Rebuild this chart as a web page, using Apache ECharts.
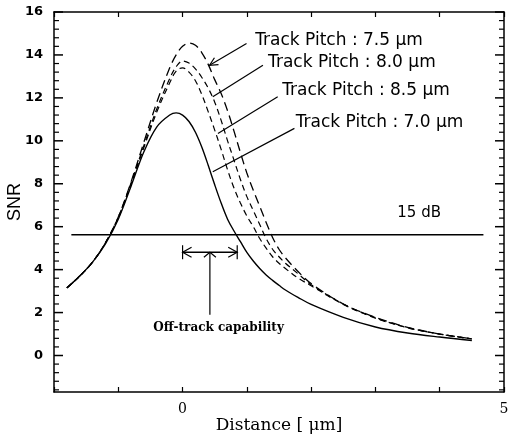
<!DOCTYPE html>
<html>
<head>
<meta charset="utf-8">
<script src="https://cdn.jsdelivr.net/npm/echarts@6.0.0/dist/echarts.min.js"></script>
<style>
  html, body { margin: 0; padding: 0; background: #fff; }
  #chart { width: 508px; height: 436px; }
</style>
</head>
<body>
<div id="chart"></div>
<script>
// Off-track distance (µm) at which SNR was evaluated
const distance = [-1.8, -1.6, -1.4, -1.2, -1.0, -0.8, -0.6, -0.4, -0.2, -0.1, 0.0, 0.1, 0.2, 0.3, 0.4, 0.5,
  0.6, 0.7, 0.8, 0.9, 1.0, 1.1, 1.2, 1.3, 1.4, 1.5, 1.6, 1.8, 2.0, 2.5, 3.0, 3.5, 4.0, 4.5];

// SNR (linear) for each track pitch
const snrPitch75 = [3.15, 3.7, 4.35, 5.25, 6.45, 8.1, 9.95, 11.8, 13.4, 14.0, 14.4, 14.55, 14.45, 14.1, 13.55, 12.85,
  12.2, 11.4, 10.45, 9.45, 8.5, 7.7, 6.95, 6.2, 5.5, 4.95, 4.55, 3.9, 3.35, 2.4, 1.78, 1.31, 1.0, 0.78];
const snrPitch80 = [3.15, 3.7, 4.35, 5.25, 6.45, 8.05, 9.8, 11.5, 12.9, 13.45, 13.72, 13.62, 13.35, 12.95, 12.45, 11.8,
  10.95, 10.0, 9.1, 8.2, 7.4, 6.75, 6.1, 5.45, 4.95, 4.6, 4.3, 3.8, 3.3, 2.4, 1.76, 1.3, 1.0, 0.78];
const snrPitch85 = [3.15, 3.7, 4.35, 5.25, 6.4, 8.0, 9.7, 11.35, 12.7, 13.25, 13.4, 13.2, 12.8, 12.15, 11.35, 10.5,
  9.6, 8.65, 7.8, 7.1, 6.5, 6.0, 5.45, 5.0, 4.6, 4.3, 4.05, 3.6, 3.25, 2.38, 1.74, 1.29, 1.0, 0.77];
const snrPitch70 = [3.15, 3.7, 4.35, 5.2, 6.35, 7.9, 9.5, 10.65, 11.2, 11.3, 11.2, 10.9, 10.4, 9.7, 8.85, 7.95,
  7.1, 6.35, 5.8, 5.3, 4.8, 4.4, 4.05, 3.75, 3.5, 3.27, 3.05, 2.7, 2.38, 1.78, 1.33, 1.05, 0.86, 0.70];

const pitchLabels = ['Track Pitch : 7.5 \u03bcm', 'Track Pitch : 8.0 \u03bcm', 'Track Pitch : 8.5 \u03bcm', 'Track Pitch : 7.0 \u03bcm'];

// 15 dB threshold expressed as linear SNR
const thresholdDb = 15;
const thresholdSnr = Math.pow(10, thresholdDb / 20);
const thresholdLabel = '15 dB';
const thresholdSpan = [-1.73, 4.68];

// Off-track capability: width of the 7.0 µm curve above the threshold, from track centre
const offTrackSpan = [0.0, 0.85];
const offTrackLabel = 'Off-track capability';

const yTickLabels = [0, 2, 4, 6, 8, 10, 12, 14, 16];
const xTickLabels = [0, 5];

// ---------- styling ----------
const BLACK = '#000';
const SANS = '"DejaVu Sans", "Liberation Sans", sans-serif';
const SERIF = '"DejaVu Serif", "Liberation Serif", serif';

function pairs(xs, ys) { return xs.map((x, i) => [x, ys[i]]); }

const xMin = -2, xMax = 5;
const yMin = -1.7, yMax = 16;
const minorY = [];
for (let v = -1.6; v < yMax; v += 0.4) {
  const r = Math.round(v * 10) / 10;
  if (Math.abs(r / 2 - Math.round(r / 2)) > 1e-6) minorY.push(r);
}

// annotation anchors in data units
const pitchLabelAnchors = [[1.13, 14.68], [1.33, 13.66], [1.55, 12.36], [1.76, 10.87]];
const leaderLines = [
  [[0.995, 14.53], [0.42, 13.52], true],
  [[1.25, 13.52], [0.47, 12.05], false],
  [[1.48, 12.05], [0.55, 10.34], false],
  [[1.74, 10.58], [0.47, 8.56], false]
];

function seg(a, b, w) {
  return { type: 'line', shape: { x1: a[0], y1: a[1], x2: b[0], y2: b[1] }, style: { stroke: BLACK, lineWidth: w || 1 } };
}
function chevron(tip, dir, len, half) {
  // open arrowhead at tip, pointing along dir (unit vector)
  const nx = -dir[1], ny = dir[0];
  const bx = tip[0] - dir[0] * len, by = tip[1] - dir[1] * len;
  return {
    type: 'polyline',
    shape: { points: [[bx + nx * half, by + ny * half], tip, [bx - nx * half, by - ny * half]] },
    style: { stroke: BLACK, lineWidth: 1.2, fill: null }
  };
}

function renderAnnotations(params, api) {
  const c = (x, y) => api.coord([x, y]);
  const kids = [];

  // inward y ticks on both frame sides: long at labelled values, short in between
  const addYTick = (v, len, w) => {
    const L = c(xMin, v), R = c(xMax, v);
    kids.push(seg([L[0], L[1]], [L[0] + len, L[1]], w));
    kids.push(seg([R[0] - len, R[1]], [R[0], R[1]], w));
  };
  yTickLabels.forEach(v => addYTick(v, 9, 1.5));
  minorY.forEach(v => addYTick(v, 5, 1.2));

  // track-pitch labels and leaders
  pitchLabels.forEach((t, i) => {
    const p = c(pitchLabelAnchors[i][0], pitchLabelAnchors[i][1]);
    kids.push({ type: 'text', style: { text: t, x: p[0], y: p[1], font: '17px ' + SANS, fill: BLACK, align: 'left', verticalAlign: 'middle' } });
    const L = leaderLines[i];
    const a = c(L[0][0], L[0][1]), b = c(L[1][0], L[1][1]);
    kids.push(seg(a, b, 1.2));
    if (L[2]) {
      const dx = b[0] - a[0], dy = b[1] - a[1], d = Math.hypot(dx, dy);
      kids.push(chevron(b, [dx / d, dy / d], 8, 4));
    }
  });

  // threshold label
  const tl = c(3.34, 6.64);
  kids.push({ type: 'text', style: { text: thresholdLabel, x: tl[0], y: tl[1], font: '15px ' + SANS, fill: BLACK, align: 'left', verticalAlign: 'middle' } });

  // off-track capability marker
  const yBar = 4.81;
  const l = c(offTrackSpan[0], yBar), r = c(offTrackSpan[1], yBar);
  const midX = (offTrackSpan[0] + offTrackSpan[1]) / 2;
  const m = c(midX, yBar), stemEnd = c(midX, 1.9);
  kids.push(seg(l, r, 1.6));
  kids.push(seg([l[0], l[1] - 7], [l[0], l[1] + 7], 1.2));
  kids.push(seg([r[0], r[1] - 7], [r[0], r[1] + 7], 1.2));
  kids.push(chevron(l, [-1, 0], 9, 5));
  kids.push(chevron(r, [1, 0], 9, 5));
  kids.push(seg(m, stemEnd, 1.2));
  kids.push(chevron(m, [0, -1], 5, 6));
  const ol = c(0.56, 1.29);
  kids.push({ type: 'text', style: { text: offTrackLabel, x: ol[0], y: ol[1], font: 'bold 12px ' + SERIF, fill: BLACK, align: 'center', verticalAlign: 'middle' } });

  return { type: 'group', children: kids };
}

const xAxisBase = {
  type: 'value', min: xMin, max: xMax, interval: 1,
  axisLine: { show: true, onZero: false, lineStyle: { color: BLACK, width: 1.5 } },
  axisTick: { show: true, inside: true, length: 5, lineStyle: { color: BLACK, width: 1.2 } },
  splitLine: { show: false }
};
const yAxisBase = {
  type: 'value', min: yMin, max: yMax,
  axisLine: { show: true, onZero: false, lineStyle: { color: BLACK, width: 1.5 } },
  axisTick: { show: false },
  splitLine: { show: false }
};

const curveStyle = (type, w) => ({ color: BLACK, width: w, type: type });

const chart = echarts.init(document.getElementById('chart'), null, { renderer: 'canvas' });
chart.setOption({
  animation: false,
  backgroundColor: '#fff',
  grid: { left: 54, right: 4, top: 12, bottom: 44, outerBoundsMode: 'none', containLabel: false },
  xAxis: [
    Object.assign({}, xAxisBase, {
      position: 'bottom',
      axisLabel: {
        show: true, margin: 10, color: BLACK, fontFamily: SERIF, fontSize: 14,
        formatter: v => (xTickLabels.indexOf(v) >= 0 ? String(v) : '')
      },
      name: 'Distance [ \u03bcm]', nameLocation: 'middle', nameGap: 25, nameMoveOverlap: false,
      nameTextStyle: { color: BLACK, fontFamily: SERIF, fontSize: 17 }
    }),
    Object.assign({}, xAxisBase, { position: 'top', axisLabel: { show: false } })
  ],
  yAxis: [
    Object.assign({}, yAxisBase, {
      position: 'left',
      axisLabel: { show: true, customValues: yTickLabels, margin: 11, color: BLACK, fontFamily: SANS, fontWeight: 'bold', fontSize: 13 },
      name: 'SNR', nameLocation: 'middle', nameGap: 30, nameRotate: 90, nameMoveOverlap: false,
      nameTextStyle: { color: BLACK, fontFamily: '"Liberation Sans", Arial, sans-serif', fontSize: 18 }
    }),
    Object.assign({}, yAxisBase, { position: 'right', axisLabel: { show: false } })
  ],
  series: [
    { name: pitchLabels[0], type: 'line', data: pairs(distance, snrPitch75), smooth: 0.35, showSymbol: false, lineStyle: curveStyle([9, 5], 1.3) },
    { name: pitchLabels[1], type: 'line', data: pairs(distance, snrPitch80), smooth: 0.35, showSymbol: false, lineStyle: curveStyle([6, 4], 1.2) },
    { name: pitchLabels[2], type: 'line', data: pairs(distance, snrPitch85), smooth: 0.35, showSymbol: false, lineStyle: curveStyle([6, 4], 1.2) },
    { name: pitchLabels[3], type: 'line', data: pairs(distance, snrPitch70), smooth: 0.35, showSymbol: false, lineStyle: curveStyle('solid', 1.4) },
    { name: thresholdLabel, type: 'line', data: [[thresholdSpan[0], thresholdSnr], [thresholdSpan[1], thresholdSnr]], showSymbol: false, lineStyle: curveStyle('solid', 1.6) },
    { name: 'annotations', type: 'custom', renderItem: renderAnnotations, data: [[0, 0]], clip: false, silent: true, z: 5 }
  ]
});
</script>
</body>
</html>
